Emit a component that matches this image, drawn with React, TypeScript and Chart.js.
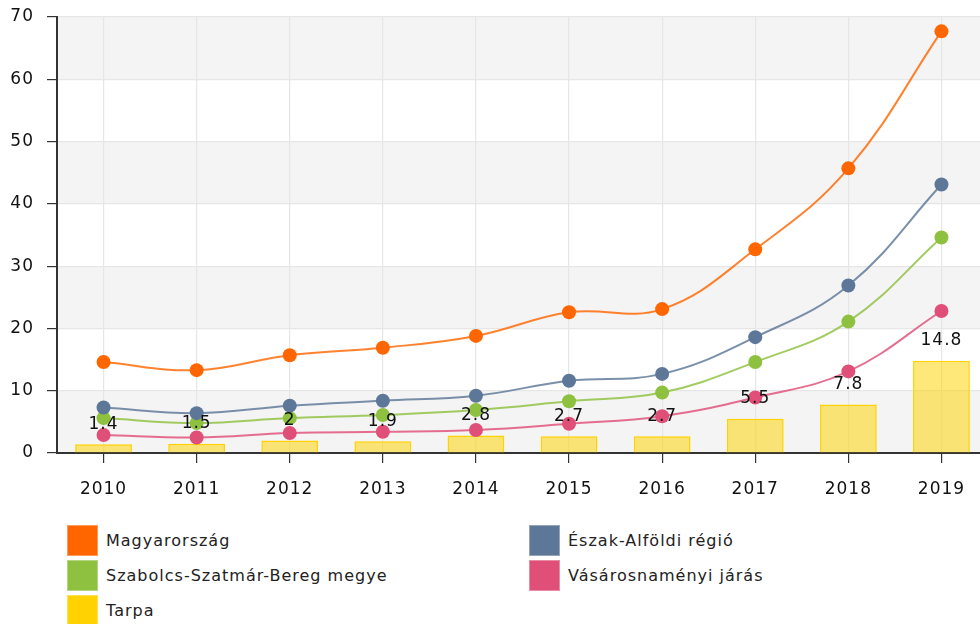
import React, { useEffect, useRef } from "react";
import { Chart, registerables } from "chart.js";

Chart.register(...registerables);

const years = ["2010", "2011", "2012", "2013", "2014", "2015", "2016", "2017", "2018", "2019"];
const magyarorszag = [14.6, 13.3, 15.7, 16.9, 18.8, 22.6, 23.1, 32.7, 45.7, 67.7];
const eszakAlfold = [7.3, 6.4, 7.6, 8.4, 9.2, 11.6, 12.7, 18.6, 26.9, 43.1];
const szabolcs = [5.6, 4.8, 5.6, 6.1, 6.9, 8.3, 9.7, 14.6, 21.1, 34.6];
const vasarosnameny = [2.9, 2.5, 3.2, 3.4, 3.7, 4.7, 5.9, 8.9, 13.1, 22.8];
const tarpa = [1.4, 1.5, 2, 1.9, 2.8, 2.7, 2.7, 5.5, 7.8, 14.8];
const yTicks = [0, 10, 20, 30, 40, 50, 60, 70];

const seriesNames = [
  "Magyarország",
  "Észak-Alföldi régió",
  "Szabolcs-Szatmár-Bereg megye",
  "Vásárosnaményi járás",
  "Tarpa",
];
const seriesColors = ["#FF6600", "#5C7797", "#8DC13F", "#E04F78", "#FFD200"];

const FONT = "'DejaVu Sans', Verdana, sans-serif";

const bandsPlugin = {
  id: "bands",
  beforeDraw(chart: any) {
    const ctx = chart.ctx;
    ctx.letterSpacing = "1px";
    const { left, right } = chart.chartArea;
    const y = chart.scales.y;
    ctx.save();
    ctx.fillStyle = "#F4F4F4";
    for (let i = 0; i < yTicks.length - 1; i++) {
      if (i % 2 === 0) {
        const top = y.getPixelForValue(yTicks[i + 1]);
        const bottom = y.getPixelForValue(yTicks[i]);
        ctx.fillRect(left, top, right - left, bottom - top);
      }
    }
    ctx.restore();
  },
};

const labelsPlugin = {
  id: "barLabels",
  afterDatasetsDraw(chart: any) {
    const ctx = chart.ctx;
    const meta = chart.getDatasetMeta(4);
    ctx.save();
    ctx.letterSpacing = "1px";
    ctx.font = `17px ${FONT}`;
    ctx.fillStyle = "#111";
    ctx.textAlign = "center";
    ctx.textBaseline = "middle";
    meta.data.forEach((el: any, i: number) => {
      ctx.fillText(String(tarpa[i]), el.x, el.y - 20);
    });
    ctx.restore();
  },
};

function lineDs(label: string, data: number[], color: string, order: number) {
  return {
    type: "line" as const,
    label,
    data,
    borderColor: color + "D0",
    backgroundColor: color,
    borderWidth: 2,
    pointRadius: 7,
    pointBackgroundColor: color,
    pointBorderColor: color,
    pointBorderWidth: 0,
    tension: 0.4,
    fill: false,
    order,
  };
}

export default function App() {
  const ref = useRef<HTMLCanvasElement>(null);

  useEffect(() => {
    if (!ref.current) return;
    const chart = new Chart(ref.current, {
      type: "bar",
      data: {
        labels: years,
        datasets: [
          lineDs(seriesNames[0], magyarorszag, seriesColors[0], 1),
          lineDs(seriesNames[1], eszakAlfold, seriesColors[1], 2),
          lineDs(seriesNames[2], szabolcs, seriesColors[2], 3),
          lineDs(seriesNames[3], vasarosnameny, seriesColors[3], 4),
          {
            type: "bar" as const,
            label: seriesNames[4],
            data: tarpa,
            backgroundColor: "rgba(255,210,0,0.52)",
            borderColor: "#FFD200",
            borderWidth: 1.5,
            categoryPercentage: 1,
            barPercentage: 0.61,
            order: 10,
          } as any,
        ],
      },
      options: {
        responsive: false,
        animation: false,
        devicePixelRatio: 1,
        layout: { padding: { top: 17, right: 1.5, left: 0, bottom: 0 } },
        plugins: {
          legend: { display: false },
          tooltip: { enabled: false },
        },
        scales: {
          x: {
            type: "category",
            offset: true,
            grid: {
              offset: false,
              color: "#E6E6E6",
              tickColor: "#333",
              tickLength: 10,
              lineWidth: 1.2,
            },
            border: { color: "#333", width: 2 },
            ticks: {
              color: "#111",
              font: { family: FONT, size: 17 },
              padding: 16,
              maxRotation: 0,
            },
            afterFit(scale: any) {
              scale.height = 67;
              scale.paddingLeft = 0;
              scale.paddingRight = 0;
            },
          },
          y: {
            min: 0,
            max: 70,
            grid: {
              color: "#E6E6E6",
              tickColor: "#333",
              tickLength: 10,
              lineWidth: 1.2,
            },
            border: { color: "#333", width: 2 },
            ticks: {
              stepSize: 10,
              color: "#111",
              font: { family: FONT, size: 17 },
              padding: 13,
            },
            afterFit(scale: any) {
              scale.width = 57;
              scale.paddingTop = 0;
              scale.paddingBottom = 0;
            },
          },
        },
      },
      plugins: [bandsPlugin, labelsPlugin],
    } as any);
    return () => chart.destroy();
  }, []);

  const order = [0, 1, 2, 3, 4];

  return (
    <div
      style={{
        position: "absolute",
        left: 0,
        top: 0,
        width: 980,
        height: 624,
        overflow: "hidden",
        background: "#fff",
      }}
    >
      <canvas ref={ref} width={995} height={520} style={{ display: "block", width: 995, height: 520 }} />
      <div
        style={{
          position: "absolute",
          left: 67,
          top: 525,
          display: "grid",
          gridTemplateColumns: "462px 440px",
          rowGap: 4,
        }}
      >
        {order.map((i) => (
          <div key={i} style={{ display: "flex", alignItems: "center", height: 31 }}>
            <div
              style={{
                width: 31,
                height: 31,
                background: seriesColors[i],
                boxSizing: "border-box",
                border: "1px solid rgba(255,255,255,0.35)",
              }}
            />
            <span
              style={{
                marginLeft: 8,
                fontFamily: FONT,
                fontSize: 16,
                letterSpacing: "1px",
                color: "#222",
                whiteSpace: "nowrap",
              }}
            >
              {seriesNames[i]}
            </span>
          </div>
        ))}
      </div>
    </div>
  );
}
